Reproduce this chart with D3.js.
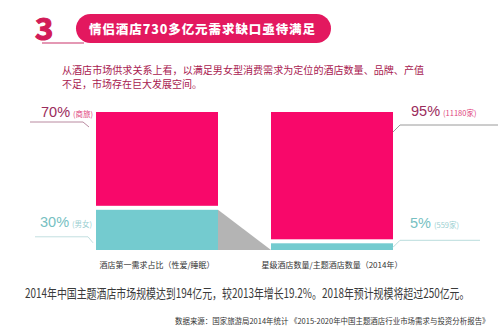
<!DOCTYPE html>
<html>
<head>
<meta charset="utf-8">
<script src="https://cdn.jsdelivr.net/npm/d3@7/dist/d3.min.js"></script>
<style>
  html, body { margin: 0; padding: 0; background: #fff; }
  svg { display: block; }
  text { font-family: "Noto Sans CJK SC", "Noto Sans", sans-serif; }
</style>
</head>
<body>
<script>
// Two stacked bars: hotel demand split vs. star-hotel / theme-hotel counts
const categories = ["酒店第一需求占比（性爱/睡眠）", "星级酒店数量/主题酒店数量（2014年）"];
const topValues = [70, 95];
const bottomValues = [30, 5];
const topLabels = ["70%", "95%"];
const topNotes = ["(商旅)", "(11180家)"];
const bottomLabels = ["30%", "5%"];
const bottomNotes = ["(男女)", "(559家)"];

const W = 500, H = 334;
const pink = "#f8086a", teal = "#74cbcf", gray = "#b4b4b4";
const svg = d3.select("body").append("svg").attr("width", W).attr("height", H);

// Fit a text horizontally into a given width by squeezing its glyphs
function fitWidth(sel, x0, y0, width) {
  const natural = sel.node().getComputedTextLength();
  const k = Math.min(1, width / natural);
  sel.attr("x", 0).attr("y", 0)
    .attr("transform", `translate(${x0},${y0}) scale(${k},1)`);
}

// Title badge
svg.append("text").attr("x", 35).attr("y", 40)
  .attr("font-family", "Liberation Sans, Arial, sans-serif").attr("font-weight", "bold")
  .attr("font-size", 31).attr("fill", "#d21b58").attr("stroke", "#d21b58").attr("stroke-width", 1.2)
  .text("3");
svg.append("line").attr("x1", 42).attr("x2", 84).attr("y1", 43).attr("y2", 43)
  .attr("stroke", "#c9336b").attr("stroke-width", 1.2);
svg.append("rect").attr("x", 76).attr("y", 14).attr("width", 255).attr("height", 29)
  .attr("rx", 14.5).attr("fill", "#e3185f");
svg.append("text").attr("x", 89).attr("y", 34)
  .attr("font-size", 12.5).attr("font-weight", 900).attr("fill", "#fff")
  .attr("textLength", 226).attr("lengthAdjust", "spacing")
  .text("情侣酒店730多亿元需求缺口亟待满足");

// Intro text
const intro = svg.append("g").attr("fill", "#a8204f").attr("font-size", 10);
intro.append("text").attr("x", 62).attr("y", 74)
  .attr("textLength", 362).attr("lengthAdjust", "spacingAndGlyphs")
  .text("从酒店市场供求关系上看，以满足男女型消费需求为定位的酒店数量、品牌、产值");
intro.append("text").attr("x", 62).attr("y", 88)
  .text("不足，市场存在巨大发展空间。");

// Scales
const x = d3.scaleBand().domain(categories).range([96, 393]).paddingInner(53 / 175).paddingOuter(0);
const base = 250, gap = 4;
const h = d3.scaleLinear().domain([0, 100]).range([0, 134]);

const bars = categories.map((c, i) => {
  const x0 = x(c), w = x.bandwidth();
  const bTop = base - h(bottomValues[i]);
  const pBottom = bTop - gap;
  const pTop = pBottom - h(topValues[i]);
  return { c, i, x0, w, bTop, pBottom, pTop };
});

// Gray connector between the two bottom segments
const L = bars[0], R = bars[1];
svg.append("path")
  .attr("d", d3.line()([[L.x0 + L.w, L.bTop], [R.x0, base], [L.x0 + L.w, base]]) + "Z")
  .attr("fill", gray);

// Bars
svg.selectAll("rect.top").data(bars).join("rect").attr("class", "top")
  .attr("x", d => d.x0).attr("width", d => d.w)
  .attr("y", d => d.pTop).attr("height", d => d.pBottom - d.pTop).attr("fill", pink);
svg.selectAll("rect.bottom").data(bars).join("rect").attr("class", "bottom")
  .attr("x", d => d.x0).attr("width", d => d.w)
  .attr("y", d => d.bTop).attr("height", d => base - d.bTop).attr("fill", teal);

// Category captions
svg.selectAll("text.cat").data(bars).join("text").attr("class", "cat")
  .attr("x", d => d.x0 + d.w / 2).attr("y", 268).attr("text-anchor", "middle")
  .attr("font-size", 8).attr("fill", "#333").text(d => d.c);

// Value labels with leader lines
function label(xText, yBase, big, small, bigColor, smallColor) {
  const t = svg.append("text").attr("x", xText).attr("y", yBase);
  t.append("tspan").attr("font-family", "Liberation Sans, Arial, sans-serif")
    .attr("font-size", 14.5).attr("fill", bigColor).text(big);
  t.append("tspan").attr("font-size", 7.5).attr("fill", smallColor).attr("dx", 3).text(small);
}
function leader(points, color) {
  svg.append("path").attr("d", d3.line()(points)).attr("fill", "none")
    .attr("stroke", color).attr("stroke-width", 1);
}

// Left bar (labels on the left side)
label(41, L.pTop + 5, topLabels[0], topNotes[0], "#9b2c5c", "#e0427c");
leader([[30, L.pTop + 10], [83, L.pTop + 10], [89, L.pTop + 15]], "#b98aa0");
label(40, L.bTop + 17, bottomLabels[0], bottomNotes[0], "#77bfc2", "#9ccfd1");
leader([[35, L.bTop + 27], [88, L.bTop + 27], [93, L.bTop + 33]], "#c2dfe0");

// Right bar (labels on the right side)
label(411, R.pTop + 4, topLabels[1], topNotes[1], "#9b2c5c", "#e0427c");
leader([[393, R.pTop + 20], [400, R.pTop + 13], [498, R.pTop + 13]], "#9a9a9a");
label(410, R.bTop - 15, bottomLabels[1], bottomNotes[1], "#77bfc2", "#9ccfd1");
leader([[393, R.bTop + 4], [400, R.bTop - 3], [480, R.bTop - 3]], "#b9dcdc");

// Summary and source
const summary = svg.append("text").attr("font-size", 13).attr("fill", "#3a3a3a")
  .text("2014年中国主题酒店市场规模达到194亿元，较2013年增长19.2%。2018年预计规模将超过250亿元。");
fitWidth(summary, 25, 298, 445);
const source = svg.append("text").attr("font-size", 7.5).attr("fill", "#333")
  .text("数据来源：国家旅游局2014年统计 《2015-2020年中国主题酒店行业市场需求与投资分析报告》");
fitWidth(source, 175, 324, 315);
</script>
</body>
</html>
